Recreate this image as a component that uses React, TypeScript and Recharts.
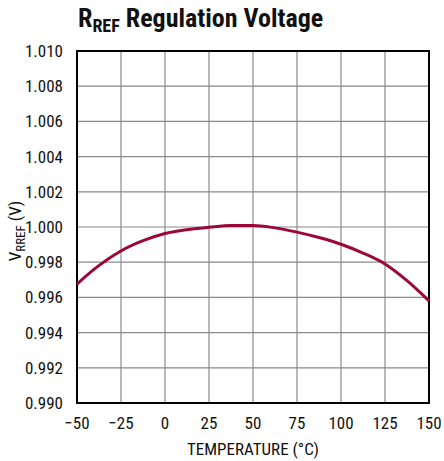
import React from "react";
import {
  LineChart,
  Line,
  XAxis,
  YAxis,
  CartesianGrid,
  ReferenceArea,
} from "recharts";

const temperatures = [-50, -40, -25, -12.5, 0, 12.5, 25, 37.5, 50, 62.5, 75, 87.5, 100, 112.5, 125, 137.5, 150];
const voltages = [0.99676, 0.99762, 0.99864, 0.99922, 0.99963, 0.99985, 0.99998, 1.00008, 1.00009, 0.99995, 0.99971, 0.9994, 0.99902, 0.99852, 0.9979, 0.99695, 0.9958];
const xTicks = [-50, -25, 0, 25, 50, 75, 100, 125, 150];
const yTicks = [0.99, 0.992, 0.994, 0.996, 0.998, 1.0, 1.002, 1.004, 1.006, 1.008, 1.01];

const data = temperatures.map((t, i) => ({ t, v: voltages[i] }));

const FONT = "'Liberation Sans Narrow', 'Roboto Condensed', Roboto, 'Liberation Sans', Arial, sans-serif";

const fmtX = (v: number) => (v < 0 ? "\u2212" + Math.abs(v) : String(v));
const fmtY = (v: number) => v.toFixed(3);

export default function App() {
  return (
    <div style={{ position: "absolute", left: 0, top: 0, width: 444, height: 461, background: "#fff", fontFamily: FONT }}>
      <div
        style={{
          position: "absolute",
          left: 78,
          top: 3,
          fontSize: 26,
          fontWeight: "bold",
          color: "#111",
          whiteSpace: "nowrap",
          fontFamily: FONT,
        }}
      >
        R<span style={{ fontSize: 18, position: "relative", top: 5 }}>REF</span> Regulation Voltage
      </div>
      <LineChart
        width={444}
        height={461}
        data={data}
        margin={{ top: 51, right: 15, bottom: 28, left: 17 }}
      >
        <CartesianGrid stroke="#8a8a8a" strokeWidth={1.2} />
        <XAxis
          dataKey="t"
          type="number"
          domain={[-50, 150]}
          ticks={xTicks}
          tickFormatter={fmtX}
          tickLine={false}
          axisLine={false}
          height={30}
          tick={{ fontSize: 17, fill: "#111", fontFamily: FONT }}
          tickMargin={8}
          interval={0}
          label={{ value: "TEMPERATURE (°C)", position: "insideBottom", offset: -22, fontSize: 17, fill: "#111", fontFamily: FONT }}
        />
        <YAxis
          type="number"
          domain={[0.99, 1.01]}
          ticks={yTicks}
          tickFormatter={fmtY}
          tickLine={false}
          axisLine={false}
          width={60}
          interval={0}
          tick={{ fontSize: 17, fill: "#111", fontFamily: FONT }}
          tickMargin={8}
          label={({ viewBox }: any) => {
            const cx = 21;
            const cy = viewBox ? viewBox.y + viewBox.height / 2 + 4 : 231;
            return (
              <text
                x={cx}
                y={cy}
                transform={`rotate(-90 ${cx} ${cy})`}
                textAnchor="middle"
                fontSize={17}
                fill="#111"
                fontFamily={FONT}
              >
                V
                <tspan fontSize={13} dy={4}>RREF</tspan>
                <tspan dy={-4}> (V)</tspan>
              </text>
            );
          }}
        />
        <ReferenceArea
          x1={-50}
          x2={150}
          y1={0.99}
          y2={1.01}
          fill="none"
          fillOpacity={0}
          stroke="#000"
          strokeWidth={2}
          ifOverflow="visible"
        />
        <Line
          type="monotone"
          dataKey="v"
          stroke="#9b0838"
          strokeWidth={3}
          dot={false}
          isAnimationActive={false}
        />
      </LineChart>
    </div>
  );
}
